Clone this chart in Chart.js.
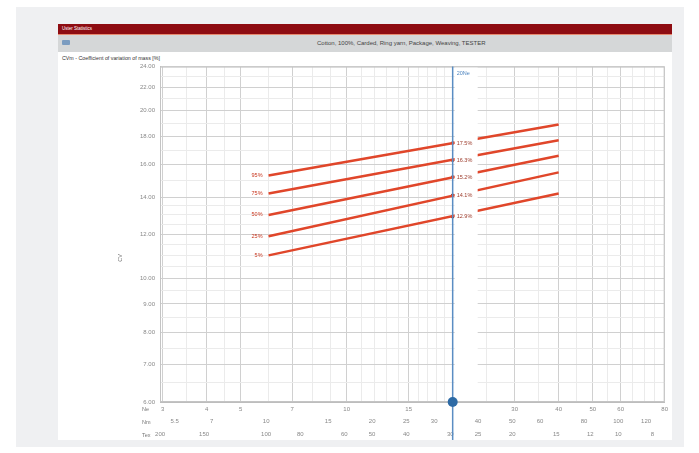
<!DOCTYPE html>
<html>
<head>
<meta charset="utf-8">
<script src="https://cdn.jsdelivr.net/npm/chart.js@4"></script>
<style>
  html, body { margin:0; padding:0; background:#fff; width:699px; height:453px; overflow:hidden; font-family:"Liberation Sans", Arial, sans-serif; }
  #panel { position:absolute; left:16px; top:7px; width:668px; height:440px; background:#eff0f2; }
  #card { position:absolute; left:58px; top:24px; width:614px; height:416px; background:#fff; }
  #topbar { position:absolute; left:0; top:0; width:614px; height:10px; background:#8e0c12; border-bottom:1px solid #e88a70; }
  #topbar span { position:absolute; left:4px; top:2px; font-size:4.5px; color:#fff; }
  #titlebar { position:absolute; left:0; top:11px; width:614px; height:17px; background:#d5d7d8; }
  #icon { position:absolute; left:4px; top:5px; width:8px; height:5px; background:#7b9cc0; border-radius:1px; }
  #title { position:absolute; left:259px; top:5px; font-size:6px; color:#444; white-space:nowrap; }
  #sub { position:absolute; left:4px; top:31px; font-size:5.3px; color:#333; white-space:nowrap; }
  #wrap { position:absolute; left:0; top:34px; width:614px; height:382px; }
</style>
</head>
<body>
<div id="panel"></div>
<div id="card">
  <div id="topbar"><span>Uster Statistics</span></div>
  <div id="titlebar"><div id="icon"></div><div id="title">Cotton, 100%, Carded, Ring yarn, Package, Weaving, TESTER</div></div>
  <div id="sub">CVm - Coefficient of variation of mass [%]</div>
  <div id="wrap"><canvas id="chart"></canvas></div>
</div>
<script>
// axis ticks (yarn count in Ne, Nm, tex)
const neTicks = [3, 4, 5, 7, 10, 15, 20, 30, 40, 50, 60, 80];
const neLabelled = [3, 4, 5, 7, 10, 15, 30, 40, 50, 60, 80];
const neMinor = [3.5, 4.5, 6, 8, 9, 11, 12, 13, 14, 16, 17, 18, 19, 25, 35, 45, 55, 65, 70, 75];
const nmTicks = [5.5, 7, 10, 15, 20, 25, 30, 40, 50, 60, 80, 100, 120];
const texTicks = [200, 150, 100, 80, 60, 50, 40, 30, 25, 20, 15, 12, 10, 8];
const cvTicks = [6, 7, 8, 9, 10, 12, 14, 16, 18, 20, 22, 24];
const cvMinor = [6.5, 7.5, 8.5, 9.5, 10.5, 11, 11.5, 12.5, 13, 13.5, 15, 17, 19, 21, 23];

// percentile lines, CVm at Ne 6 and Ne 40
const percentiles = ['5%', '25%', '50%', '75%', '95%'];
const lineNe = [6, 40];
const cv5 = [11.0, 14.2];
const cv25 = [11.9, 15.5];
const cv50 = [13.0, 16.6];
const cv75 = [14.2, 17.7];
const cv95 = [15.3, 18.9];

// reading at the cursor
const markerNe = 20;
const markerCv = [12.9, 14.1, 15.2, 16.3, 17.5];

const neMin = 2.95, neMax = 80;
const NM_PER_NE = 1.6934, TEX_NE = 590.5;

const series = [cv5, cv25, cv50, cv75, cv95];
const datasets = series.map((s, i) => ({
  label: percentiles[i],
  data: lineNe.map((ne, j) => ({ x: ne, y: s[j] })),
  borderColor: '#e0462a',
  borderWidth: 2.5,
  pointRadius: 0,
  tension: 0
}));
datasets.push({
  label: 'cursor',
  type: 'scatter',
  data: markerCv.map(v => ({ x: markerNe, y: v })),
  pointRadius: 1.8,
  backgroundColor: '#7a2a1a',
  borderWidth: 0
});

const tickFont = { size: 6, family: '"Liberation Sans", Arial, sans-serif' };

function setTicks(list, majors) {
  return function (scale) {
    scale.ticks = list.slice().sort((a, b) => a - b).map(v => ({ value: v, major: majors.includes(v) }));
  };
}

const decor = {
  id: 'decor',
  afterDatasetsDraw(chart) {
    const ctx = chart.ctx;
    const a = chart.chartArea;
    const xs = chart.scales.x, ys = chart.scales.y;
    const mx = xs.getPixelForValue(markerNe);
    ctx.save();
    // plot border
    ctx.strokeStyle = '#c4c4c4';
    ctx.lineWidth = 1;
    ctx.strokeRect(a.left + 0.5, a.top + 0.5, a.right - a.left - 1, a.bottom - a.top - 1);
    // white band for the cursor readings
    ctx.fillStyle = '#ffffff';
    ctx.fillRect(mx + 2, a.top + 1, 23, a.bottom - a.top - 2);
    ctx.font = '5.5px "Liberation Sans", Arial, sans-serif';
    ctx.textBaseline = 'middle';
    ctx.textAlign = 'left';
    ctx.fillStyle = '#9c3a2a';
    markerCv.forEach(v => {
      ctx.fillText(v.toFixed(1) + '%', mx + 4, ys.getPixelForValue(v));
    });
    // percentile names at line starts
    ctx.textAlign = 'right';
    ctx.fillStyle = '#c8361e';
    series.forEach((s, i) => {
      ctx.fillText(percentiles[i], xs.getPixelForValue(lineNe[0]) - 6, ys.getPixelForValue(s[0]));
    });
    // cursor line
    ctx.strokeStyle = '#5a8dc3';
    ctx.lineWidth = 1.5;
    ctx.beginPath();
    ctx.moveTo(mx, a.top);
    ctx.lineTo(mx, chart.height);
    ctx.stroke();
    ctx.fillStyle = '#2d6aa5';
    ctx.beginPath();
    ctx.arc(mx, a.bottom, 5, 0, Math.PI * 2);
    ctx.fill();
    ctx.fillStyle = '#4f86c0';
    ctx.textAlign = 'left';
    ctx.fillText(markerNe + 'Ne', mx + 4, a.top + 7);
    // row names of the count axes
    ctx.fillStyle = '#777';
    ctx.font = '5.5px "Liberation Sans", Arial, sans-serif';
    [['x', 'Ne'], ['nm', 'Nm'], ['tex', 'Tex']].forEach(([id, name]) => {
      const s = chart.scales[id];
      ctx.fillText(name, a.left - 18, (s.top + s.bottom) / 2 + 1);
    });
    // y title
    ctx.translate(62, 200);
    ctx.rotate(-Math.PI / 2);
    ctx.textAlign = 'center';
    ctx.fillText('CV', 0, 0);
    ctx.restore();
  }
};

new Chart(document.getElementById('chart'), {
  type: 'line',
  data: { datasets: datasets },
  options: {
    responsive: true,
    maintainAspectRatio: false,
    animation: false,
    layout: { padding: { top: 4, right: 7, left: 0, bottom: 0 } },
    plugins: { legend: { display: false }, tooltip: { enabled: false } },
    scales: {
      x: {
        type: 'logarithmic', position: 'bottom', weight: 0,
        min: neMin, max: neMax,
        afterBuildTicks: setTicks(neTicks.concat(neMinor), neTicks),
        afterFit: s => { s.height = 13; },
        grid: { color: c => (c.tick && c.tick.major) ? '#d0d0d0' : '#ebebeb', drawTicks: false },
        border: { color: '#bdbdbd' },
        ticks: { autoSkip: false, maxRotation: 0, padding: 4, font: tickFont, color: '#888',
          callback: v => neLabelled.includes(v) ? String(v) : '' }
      },
      nm: {
        type: 'logarithmic', position: 'bottom', weight: 1,
        min: neMin * NM_PER_NE, max: neMax * NM_PER_NE,
        afterBuildTicks: setTicks(nmTicks, nmTicks),
        afterFit: s => { s.height = 13; },
        grid: { display: false, drawTicks: false },
        border: { display: false },
        ticks: { autoSkip: false, maxRotation: 0, padding: 3, font: tickFont, color: '#888',
          callback: v => String(v) }
      },
      tex: {
        type: 'logarithmic', position: 'bottom', weight: 2, reverse: true,
        min: TEX_NE / neMax, max: TEX_NE / neMin,
        afterBuildTicks: setTicks(texTicks, texTicks),
        afterFit: s => { s.height = 12; },
        grid: { display: false, drawTicks: false },
        border: { display: false },
        ticks: { autoSkip: false, maxRotation: 0, padding: 3, font: tickFont, color: '#888',
          callback: v => String(v) }
      },
      y: {
        type: 'logarithmic', min: 6, max: 24,
        afterBuildTicks: setTicks(cvTicks.concat(cvMinor), cvTicks),
        afterFit: s => { s.width = 102; },
        grid: { color: c => (c.tick && c.tick.major) ? '#d0d0d0' : '#ebebeb', drawTicks: false },
        border: { color: '#bdbdbd' },
        ticks: { autoSkip: false, padding: 5, font: tickFont, color: '#888',
          callback: v => cvTicks.includes(v) ? v.toFixed(2) : '' }
      }
    }
  },
  plugins: [decor]
});
</script>
</body>
</html>
